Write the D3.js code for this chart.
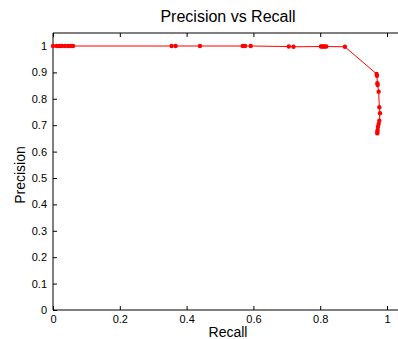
<!DOCTYPE html>
<html>
<head>
<meta charset="utf-8">
<script src="https://cdnjs.cloudflare.com/ajax/libs/d3/7.8.5/d3.min.js"></script>
<style>
body { margin: 0; background: #fff; }
text { font-family: "Liberation Sans", Arial, sans-serif; fill: #000; }
</style>
</head>
<body>
<svg id="chart" width="398" height="339"></svg>
<script>
// recall / precision pairs
var recall = [0, 0.011, 0.019, 0.027, 0.036, 0.045, 0.053, 0.06,
              0.355, 0.367, 0.44, 0.568, 0.575, 0.592, 0.706, 0.72,
              0.802, 0.806, 0.81, 0.814, 0.818, 0.874,
              0.969, 0.97, 0.971, 0.972, 0.975, 0.977, 0.979, 0.977, 0.975, 0.973, 0.972, 0.971, 0.971];
var precision = [1, 1, 1, 1, 1, 1, 1, 1,
                 1, 1, 1, 1, 1, 1, 0.998, 0.997,
                 0.998, 0.998, 0.998, 0.998, 0.998, 0.997,
                 0.894, 0.887, 0.859, 0.852, 0.827, 0.768, 0.745, 0.717, 0.705, 0.694, 0.682, 0.675, 0.669];
var xTicks = [0, 0.2, 0.4, 0.6, 0.8, 1];
var yTicks = [0, 0.1, 0.2, 0.3, 0.4, 0.5, 0.6, 0.7, 0.8, 0.9, 1];

var svg = d3.select("#chart");
var margins = {left: 53, top: 33, bottom: 310};

var xScale = d3.scaleLinear()
                .domain([0, 1])
                .range([53, 387]);
var yScale = d3.scaleLinear()
                .domain([0, 1])
                .range([310, 46]);

var data = recall.map(function(r, i) { return {x: r, y: precision[i]}; });

// box (right side runs off the window)
svg.append("line").attr("x1", 53).attr("x2", 398).attr("y1", 33).attr("y2", 33)
    .attr("stroke", "#000").attr("stroke-width", 1);

var xAxis = svg.append("g")
    .attr("transform", "translate(0," + margins.bottom + ")")
    .call(d3.axisBottom(xScale).tickValues(xTicks).tickSize(-4).tickPadding(5)
            .tickFormat(function(d) { return d3.format("")(d); }));
xAxis.select(".domain").remove();
xAxis.append("line").attr("x1", 53).attr("x2", 398).attr("stroke", "#000").attr("stroke-width", 1);

var xTop = svg.append("g")
    .attr("transform", "translate(0," + margins.top + ")")
    .call(d3.axisTop(xScale).tickValues(xTicks).tickSize(-4).tickFormat(""));
xTop.select(".domain").remove();

var yAxis = svg.append("g")
    .attr("transform", "translate(" + margins.left + ",0)")
    .call(d3.axisLeft(yScale).tickValues(yTicks).tickSize(-4).tickPadding(6)
            .tickFormat(function(d) { return d3.format("")(d); }));
yAxis.select(".domain").remove();
yAxis.append("line").attr("y1", 33).attr("y2", 310).attr("stroke", "#000").attr("stroke-width", 1);

svg.selectAll(".tick text").style("font-size", "11px").style("font-family", "'Liberation Sans', Arial, sans-serif");
svg.selectAll(".tick line").attr("stroke", "#000");

var line = d3.line()
    .x(function(d) { return xScale(d.x); })
    .y(function(d) { return yScale(d.y); });

svg.append("path")
    .datum(data)
    .attr("d", line)
    .attr("fill", "none")
    .attr("stroke", "#ff0000")
    .attr("stroke-width", 1);

svg.selectAll("circle.pt")
    .data(data)
    .enter()
    .append("circle")
    .attr("class", "pt")
    .attr("cx", function(d) { return xScale(d.x); })
    .attr("cy", function(d) { return yScale(d.y); })
    .attr("r", 2.2)
    .style("fill", "#ff0000");

svg.append("text")
    .attr("x", 228).attr("y", 22)
    .attr("text-anchor", "middle")
    .style("font-size", "16px")
    .text("Precision vs Recall");

svg.append("text")
    .attr("x", 228).attr("y", 337)
    .attr("text-anchor", "middle")
    .style("font-size", "14px")
    .text("Recall");

svg.append("text")
    .attr("transform", "translate(25,175) rotate(-90)")
    .attr("text-anchor", "middle")
    .style("font-size", "14px")
    .text("Precision");
</script>
</body>
</html>
